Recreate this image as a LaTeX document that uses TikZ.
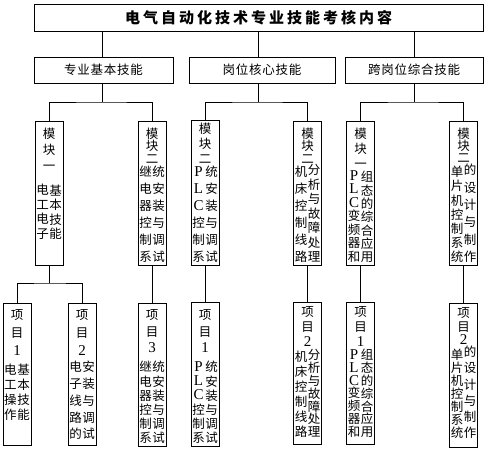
\documentclass[tikz,border=0pt]{standalone}
\usepackage{fontspec}
\newfontfamily\cjk{Noto Sans CJK SC}
\newfontfamily\cjkwide{Noto Sans CJK SC}[LetterSpace=20]
\newfontfamily\cjkmid{Noto Sans CJK SC}[LetterSpace=6]
\newfontfamily\lat{Liberation Serif}[Scale=1.2]
\setlength{\lineskiplimit}{-20pt}

\begin{document}
\begin{tikzpicture}[x=1pt, y=-1pt, line width=1pt,
  titlebox/.style={draw, minimum width=449pt, minimum height=27pt, inner sep=0pt, font=\fontsize{15}{15}\selectfont\cjkwide\bfseries},
  catbox/.style={draw, minimum width=#1, minimum height=26pt, inner sep=0pt, font=\fontsize{12.5}{12.5}\selectfont\cjkmid},
  modbox/.style={draw, minimum width=28pt, minimum height=#1, inner sep=0pt, anchor=north},
  vcol/.style={inner sep=0pt, align=center, font=\fontsize{12.5pt}{#1pt}\selectfont\cjk},
  vcol/.default=16]
\useasboundingbox (0,0) rectangle (489,450);
% top level
\node[titlebox] (title) at (258.5,17.5) {电气自动化技术专业技能考核内容};
\node[catbox=139pt] (basic) at (103.5,70) {专业基本技能};
\node[catbox=146pt] (core)  at (262,70)   {岗位核心技能};
\node[catbox=138pt] (cross) at (414,70)   {跨岗位综合技能};
\coordinate (jb) at (102,102);
\coordinate (jc) at (258,102);
\coordinate (jx) at (414,102);
\coordinate (ja) at (50,283);
% modules
\node[modbox=144pt] (mA) at (49,121)    {};
\node[modbox=144pt] (mB) at (152,121)   {};
\node[modbox=145pt] (mC) at (205,120)   {};
\node[modbox=144pt] (mD) at (307.5,121) {};
\node[modbox=144pt] (mE) at (360.5,121) {};
\node[modbox=144pt] (mF) at (463.5,121) {};
\node[vcol=16]   (mAh) at (49,149)      {模\\块\\一};
\node[vcol=14.5] (mAl) at (42.5,212)    {电\\工\\电\\子};
\node[vcol=14.5] (mAr) at (55.5,212)    {基\\本\\技\\能};
\node[vcol=12.5] (mBh) at (152,145.5)   {模\\块\\二};
\node[vcol=17]   (mBl) at (145.5,214.5) {继\\电\\器\\控\\制\\系};
\node[vcol=17]   (mBr) at (158.5,214.5) {统\\安\\装\\与\\调\\试};
\node[vcol=15]   (mCh) at (205,143)     {模\\块\\二};
\node[vcol=17]   (mCl) at (198.5,214.5) {\lat P\\\lat L\\\lat C\\控\\制\\系};
\node[vcol=17]   (mCr) at (211.5,214.5) {统\\安\\装\\与\\调\\试};
\node[vcol=12.5] (mDh) at (307.5,145.5) {模\\块\\二};
\node[vcol=17]   (mDl) at (301,214.5)   {机\\床\\控\\制\\线\\路};
\node[vcol=14.5] (mDr) at (314,213.5)   {分\\析\\与\\故\\障\\处\\理};
\node[vcol=15]   (mEh) at (360.5,148)   {模\\块\\一};
\node[vcol=13.5] (mEl) at (354,216.5)   {\lat P\\\lat L\\\lat C\\变\\频\\器\\和};
\node[vcol=13.3] (mEr) at (367,217)     {组\\态\\的\\综\\合\\应\\用};
\node[vcol=12]   (mFh) at (463.5,145)   {模\\块\\二};
\node[vcol=14.2] (mFl) at (457,214.5)   {单\\片\\机\\控\\制\\系\\统};
\node[vcol=17.4] (mFr) at (470,213.5)   {的\\设\\计\\与\\制\\作};
% projects
\node[modbox=142pt] (p1) at (17,303)    {};
\node[modbox=142pt] (p2) at (82,303)    {};
\node[modbox=143pt] (p3) at (152,303)   {};
\node[modbox=144pt] (p4) at (205,302)   {};
\node[modbox=142pt] (p5) at (307.5,302) {};
\node[modbox=142pt] (p6) at (360.5,302) {};
\node[modbox=144pt] (p7) at (463.5,303) {};
\node[vcol=18]    (p1h) at (17,333)      {项\\目\\\lat 1};
\node[vcol=15]    (p1l) at (10.5,392.5)  {电\\工\\操\\作};
\node[vcol=15]    (p1r) at (23.5,392.5)  {基\\本\\技\\能};
\node[vcol=18]    (p2h) at (82,333)      {项\\目\\\lat 2};
\node[vcol=16.75] (p2l) at (75.5,400.5)  {电\\子\\线\\路\\的};
\node[vcol=16.75] (p2r) at (88.5,400.5)  {安\\装\\与\\调\\试};
\node[vcol=16.5]  (p3h) at (152,331.5)   {项\\目\\\lat 3};
\node[vcol=14.2]  (p3l) at (145.5,402.5) {继\\电\\器\\控\\制\\系};
\node[vcol=14.2]  (p3r) at (158.5,402.5) {统\\安\\装\\与\\调\\试};
\node[vcol=16.5]  (p4h) at (205,331.5)   {项\\目\\\lat 1};
\node[vcol=14.2]  (p4l) at (198.5,402.5) {\lat P\\\lat L\\\lat C\\控\\制\\系};
\node[vcol=14.2]  (p4r) at (211.5,402.5) {统\\安\\装\\与\\调\\试};
\node[vcol=15]    (p5h) at (307.5,327)   {项\\目\\\lat 2};
\node[vcol=15]    (p5l) at (301,394.5)   {机\\床\\控\\制\\线\\路};
\node[vcol=12.8]  (p5r) at (314,393.5)   {分\\析\\与\\故\\障\\处\\理};
\node[vcol=15]    (p6h) at (360.5,327)   {项\\目\\\lat 1};
\node[vcol=12.8]  (p6l) at (354,393.5)   {\lat P\\\lat L\\\lat C\\变\\频\\器\\和};
\node[vcol=12.8]  (p6r) at (367,393.5)   {组\\态\\的\\综\\合\\应\\用};
\node[vcol=13.5]  (p7h) at (463.5,326.5) {项\\目\\\lat 2};
\node[vcol=13]    (p7l) at (457,394)     {单\\片\\机\\控\\制\\系\\统};
\node[vcol=16.2]  (p7r) at (470,392.5)   {的\\设\\计\\与\\制\\作};
% connectors
\draw (title.south -| jb) -- (basic.north -| jb);
\draw (title.south -| jc) -- (core.north -| jc);
\draw (title.south -| jx) -- (cross.north -| jx);
\draw (basic.south -| jb) -- (jb);
\draw (core.south -| jc) -- (jc);
\draw (cross.south -| jx) -- (jx);
\draw (mA.north) |- (jb) -| (mB.north);
\draw (mC.north) |- (jc) -| (mD.north);
\draw (mE.north) |- (jx) -| (mF.north);
\draw (mA.south) -- (mA.south |- ja);
\draw (p1.north) |- (ja) -| (p2.north);
\draw (mB.south) -- (p3.north);
\draw (mC.south) -- (p4.north);
\draw (mD.south) -- (p5.north);
\draw (mE.south) -- (p6.north);
\draw (mF.south) -- (p7.north);
\end{tikzpicture}
\end{document}
